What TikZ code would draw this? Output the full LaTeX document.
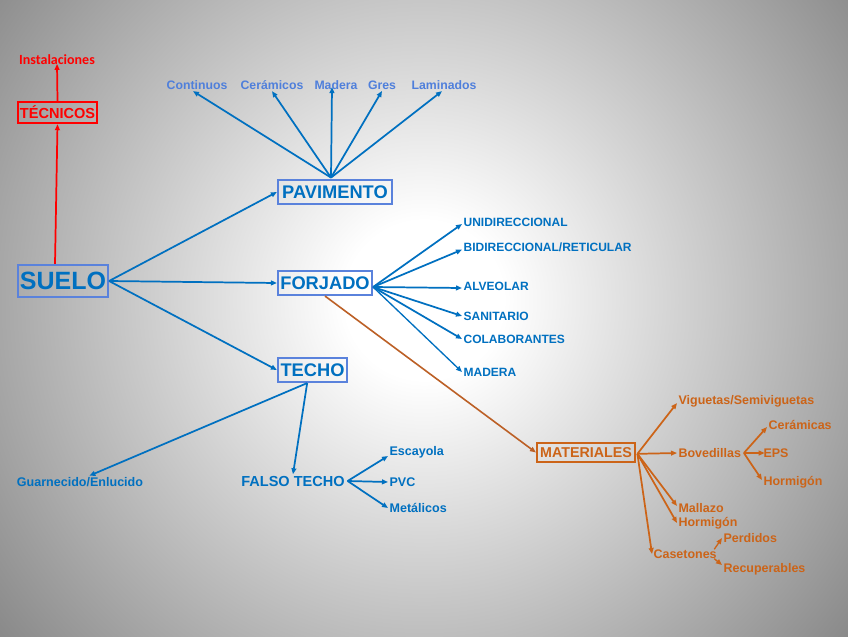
\documentclass[tikz,border=0pt]{standalone}
\usepackage{fontspec}
\setmainfont{Liberation Sans}
\newfontfamily\calib{Carlito}
\usetikzlibrary{arrows.meta}
\definecolor{cblue}{HTML}{0070C0}
\definecolor{cbox}{HTML}{5A82DC}
\definecolor{clight}{HTML}{4F7FDB}
\definecolor{corange}{HTML}{CC6418}
\definecolor{cbrown}{HTML}{BC6026}
\definecolor{cred}{HTML}{FF0000}
\pgfdeclareradialshading{bgrad}{\pgfpoint{0bp}{0bp}}{color(0bp)=(white); color(3.3bp)=(white); color(25bp)=(black!52); color(50bp)=(black!52)}
\newcommand\myfs[1]{\bfseries\fontsize{#1}{#1}\selectfont}
\begin{document}
\begin{tikzpicture}[x=0.75pt,y=-0.75pt,
  arr/.style={-{Triangle[length=4.5pt,width=3.6pt]}, line width=1.3pt},
  barr/.style={arr, draw=cblue},
  oarr/.style={arr, draw=corange},
  rarr/.style={arr, draw=cred},
  bbox/.style={draw=cbox, line width=1.6pt, text=cblue, inner sep=0pt},
  plab/.style={text=clight, font=\myfs{9.2}, inner sep=1pt},
  flab/.style={text=cblue, font=\myfs{9}, inner sep=1pt, anchor=west},
  tlab/.style={text=cblue, font=\myfs{9.4}, inner sep=1pt},
  olab/.style={text=corange, font=\myfs{9.35}, inner sep=1pt, anchor=west}]
\useasboundingbox (0,0) rectangle (848,636);
\begin{scope}
\clip (0,0) rectangle (848,636);
\shade[shading=bgrad] (-176,-300) rectangle (1024,900);
\end{scope}

% main boxes
\node[bbox, minimum width=67.5pt, minimum height=24pt, font=\myfs{18.75}] (suelo) at (63,281) {SUELO};
\node[bbox, minimum width=85.5pt, minimum height=18pt, font=\myfs{13.7}] (pav) at (335,192) {PAVIMENTO};
\node[bbox, minimum width=70.5pt, minimum height=18pt, font=\myfs{13.7}] (forj) at (325,283) {FORJADO};
\node[bbox, minimum width=51.75pt, minimum height=18pt, font=\myfs{13.7}] (techo) at (312.5,370) {TECHO};

% red branch
\node[draw=cred, line width=1.8pt, text=cred, inner sep=0pt, minimum width=59.25pt, minimum height=15.75pt, font=\myfs{10.9}] (tec) at (57.5,112.5) {TÉCNICOS};
\node[text=cred, font=\calib\bfseries\fontsize{10.5}{11}\selectfont, inner sep=1pt] (inst) at (57,60) {Instalaciones};
\draw[rarr] ([xshift=-6pt]suelo.north) -- (tec.south);
\draw[rarr] (tec.north) -- ([yshift=2pt]inst.south);

% suelo fan
\draw[barr] (suelo.east) -- (pav.west);
\draw[barr] (suelo.east) -- (forj.west);
\draw[barr] (suelo.east) -- (techo.west);

% pavimento labels
\node[plab] (cont) at (197,85) {Continuos};
\node[plab] (cer) at (272,85) {Cerámicos};
\node[plab] (mad) at (336,85) {Madera};
\node[plab] (gres) at (382,85) {Gres};
\node[plab] (lam) at (444,85) {Laminados};
\coordinate (pavo) at ([xshift=-3pt,yshift=1pt]pav.north);
\draw[barr] (pavo) -- ([xshift=-3pt]cont.south);
\draw[barr] (pavo) -- (cer.south);
\draw[barr] (pavo) -- ([xshift=-3pt,yshift=3pt]mad.south);
\draw[barr] (pavo) -- (gres.south);
\draw[barr] (pavo) -- ([xshift=-1.5pt]lam.south);

% forjado labels
\node[flab] (uni) at (462,222) {UNIDIRECCIONAL};
\node[flab] (bid) at (462,247) {BIDIRECCIONAL/RETICULAR};
\node[flab] (alv) at (462,286) {ALVEOLAR};
\node[flab] (san) at (462,316) {SANITARIO};
\node[flab] (col) at (462,339) {COLABORANTES};
\node[flab] (fmad) at (462,372) {MADERA};
\coordinate (forjo) at ([yshift=-3pt]forj.east);
\draw[barr] (forjo) -- ([yshift=-1.5pt]uni.west);
\draw[barr] (forjo) -- ([yshift=-2pt]bid.west);
\draw[barr] (forjo) -- ([yshift=-1.5pt]alv.west);
\draw[barr] (forjo) -- (san.west);
\draw[barr] (forjo) -- (col.west);
\draw[barr, line width=1pt] (forjo) -- (fmad.west);

% techo branch
\node[tlab] (guar) at (80,482) {Guarnecido/Enlucido};
\node[text=cblue, font=\myfs{10.9}, inner sep=1pt] (ft) at (293,481) {FALSO TECHO};
\node[tlab, anchor=west] (esc) at (388,452) {Escayola};
\node[tlab, anchor=west] (pvc) at (388,482) {PVC};
\node[tlab, anchor=west] (met) at (388,508) {Metálicos};
\coordinate (techoo) at ([xshift=-4pt]techo.south);
\draw[barr] (techoo) -- ([xshift=7pt]guar.north);
\draw[barr] (techoo) -- (ft.north);
\coordinate (fto) at ([xshift=1pt]ft.east);
\draw[barr] (fto) -- ([yshift=-3pt]esc.west);
\draw[barr] (fto) -- (pvc.west);
\draw[barr] (fto) -- (met.west);

% materiales
\node[draw=corange, line width=1.6pt, text=corange, inner sep=0pt, minimum width=73.5pt, minimum height=14.25pt, font=\myfs{10.7}] (mat) at (586,452.5) {MATERIALES};
\draw[arr, draw=cbrown, line width=1.2pt] (forj.south) -- (mat.west);

\node[olab] (vig) at (677,401) {Viguetas/Semiviguetas};
\node[olab] (bov) at (677,453) {Bovedillas};
\node[olab] (mall) at (677,508) {Mallazo};
\node[olab] (horm) at (677,523) {Hormigón};
\node[olab] (cas) at (652,554) {Casetones};
\coordinate (mato) at ([xshift=1pt,yshift=-1pt]mat.east);
\draw[oarr] (mato) -- ([yshift=-1.5pt]vig.west);
\draw[oarr] (mato) -- (bov.west);
\draw[oarr] (mato) -- ([yshift=1.5pt]mall.west);
\draw[oarr] (mato) -- (horm.west);
\draw[oarr] (mato) -- (cas.west);

\node[olab] (cera) at (767,425) {Cerámicas};
\node[olab] (eps) at (762,453) {EPS};
\node[olab] (horm2) at (762,482) {Hormigón};
\coordinate (bovo) at ([xshift=1pt]bov.east);
\draw[oarr] (bovo) -- ([yshift=-1.5pt]cera.west);
\draw[oarr] (bovo) -- ([xshift=2pt]eps.west);
\draw[oarr] (bovo) -- ([yshift=1.5pt]horm2.west);

\node[olab] (perd) at (722,538) {Perdidos};
\node[olab] (rec) at (722,569) {Recuperables};
\draw[oarr, line width=1pt] ([xshift=-3pt,yshift=-1pt]cas.north east) -- (perd.west);
\draw[oarr, line width=1pt] ([xshift=-3pt,yshift=1pt]cas.south east) -- ([yshift=3pt]rec.west);
\end{tikzpicture}
\end{document}
